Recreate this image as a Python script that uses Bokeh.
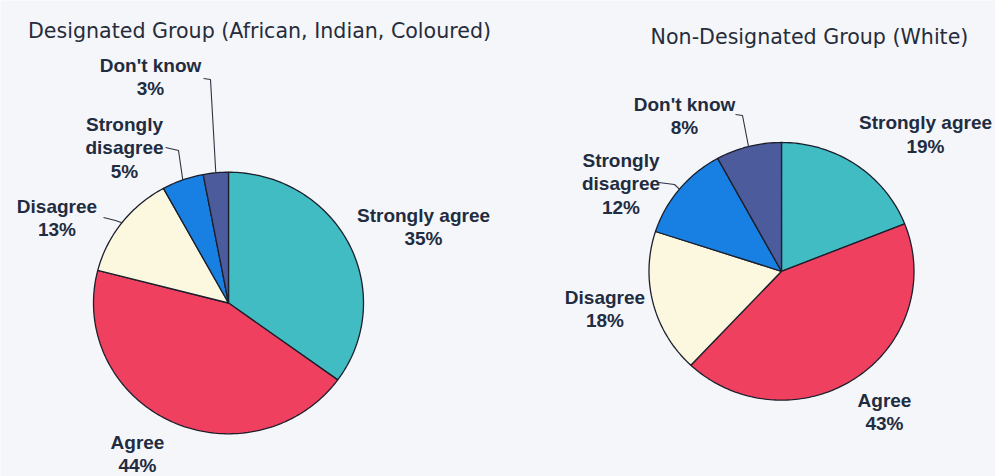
import math
from bokeh.plotting import figure
from bokeh.models import Range1d, ColumnDataSource
from bokeh.embed import file_html
from bokeh.resources import INLINE
from bokeh.core.properties import value

# ---------------- data ----------------
categories = ["Strongly agree", "Agree", "Disagree", "Strongly disagree", "Don't know"]
designated_pct = [35, 44, 13, 5, 3]
non_designated_pct = [19, 43, 18, 12, 8]
titles = ["Designated Group (African, Indian, Coloured)", "Non-Designated Group (White)"]

# ---------------- styles / layout ----------------
slice_colors = ["#41bcc2", "#f0405f", "#fcf8df", "#1780e2", "#4c5b9c"]
BG = "#f5f6fa"
TXT = "#222c40"
LINE = "#1c1f2c"
wrapped = {"Strongly disagree": ["Strongly", "disagree"]}
LINE_STEP = 23.8

pies = [
    dict(values=designated_pct, title=titles[0], cx=228, cy=302.5, rx=135, ry=130.8,
         title_pos=(259, 30),
         label_pos=[(423, 214.5), (137, 441.5), (56.5, 205.5), (124, 123.5), (150, 64.5)],
         leaders={2: (103, 217, 115, 220), 3: (165, 147, 178, 150), 4: (203, 78, 210, 79)}),
    dict(values=non_designated_pct, title=titles[1], cx=781, cy=270.8, rx=132.5, ry=128.8,
         title_pos=(809, 36),
         label_pos=[(925, 122), (884, 399.5), (604.5, 296.5), (620.5, 159.5), (684, 103.5)],
         leaders={3: (658, 182, 674, 184), 4: (735, 114, 742, 115)}),
]

W, H = 995, 476
p = figure(width=W, height=H, x_range=Range1d(0, W), y_range=Range1d(H, 0),
           output_backend="svg", toolbar_location=None, min_border=0,
           x_axis_type=None, y_axis_type=None)
p.grid.visible = False
p.outline_line_color = None
p.background_fill_color = BG
p.border_fill_color = BG

for pie in pies:
    vals = pie["values"]
    total = float(sum(vals))
    cx, cy, rx, ry = pie["cx"], pie["cy"], pie["rx"], pie["ry"]

    def pt(frac):
        a = 2 * math.pi * frac
        return cx + rx * math.sin(a), cy - ry * math.cos(a)

    xs, ys = [], []
    cum = 0.0
    mids = []
    for v in vals:
        f0 = cum / total
        f1 = (cum + v) / total
        n = max(4, int(v * 3))
        px, py = [cx], [cy]
        for k in range(n + 1):
            x, y = pt(f0 + (f1 - f0) * k / n)
            px.append(x)
            py.append(y)
        xs.append(px)
        ys.append(py)
        mids.append((f0 + f1) / 2)
        cum += v
    p.patches(xs=xs, ys=ys, fill_color=slice_colors, line_color=LINE, line_width=1.3)

    # leader lines
    for idx, (sx, sy, ex, ey) in pie["leaders"].items():
        rxp, ryp = pt(mids[idx])
        p.line(x=[sx, ex, rxp], y=[sy, ey, ryp], line_color="#2e3340", line_width=1.1)

    # labels
    tx, ty, tt = [], [], []
    for i, cat in enumerate(categories):
        lines = wrapped.get(cat, [cat]) + ["%d%%" % vals[i]]
        lx, ly = pie["label_pos"][i]
        for j, s in enumerate(lines):
            tx.append(lx)
            ty.append(ly + j * LINE_STEP)
            tt.append(s)
    p.text(x=tx, y=ty, text=tt, text_font=value("Liberation Sans"), text_font_style="bold",
           text_font_size="19px", text_color=TXT, text_align="center", text_baseline="middle")

    p.text(x=[pie["title_pos"][0]], y=[pie["title_pos"][1]], text=[pie["title"]],
           text_font=value("DejaVu Sans"), text_font_size="20.6px", text_color="#262c3b",
           text_align="center", text_baseline="alphabetic")

open("out.html", "w").write(file_html(p, INLINE))
